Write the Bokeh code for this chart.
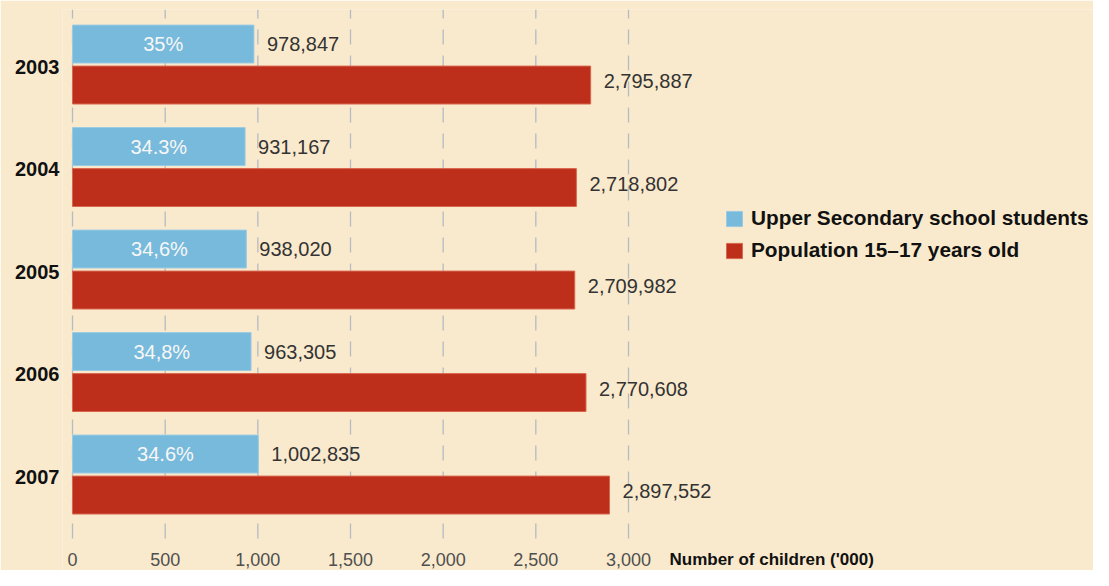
from bokeh.plotting import figure
from bokeh.models import (ColumnDataSource, Range1d, FixedTicker, CustomJSTickFormatter,
                          Legend, LegendItem)
from bokeh.core.properties import value
from bokeh.embed import file_html
from bokeh.resources import INLINE

# ---- data ----
years = ["2003", "2004", "2005", "2006", "2007"]
students = [978.847, 931.167, 938.020, 963.305, 1002.835]          # thousands
population = [2795.887, 2718.802, 2709.982, 2770.608, 2897.552]    # thousands
student_labels = ["978,847", "931,167", "938,020", "963,305", "1,002,835"]
population_labels = ["2,795,887", "2,718,802", "2,709,982", "2,770,608", "2,897,552"]
share_labels = ["35%", "34.3%", "34,6%", "34,8%", "34.6%"]
tick_values = [0, 500, 1000, 1500, 2000, 2500, 3000]
tick_labels = ["0", "500", "1,000", "1,500", "2,000", "2,500", "3,000"]
axis_title = "Number of children ('000)"
legend_labels = ["Upper Secondary school students", "Population 15\u201317 years old"]

# ---- styling ----
BG = "#FAEACD"
BLUE = "#78BADB"
RED = "#BE2F1B"
FONT = "Liberation Sans"
GRID_TOP = -0.537      # frame top (row units)
GRID_BOTTOM = 4.624    # where the dashed grid lines stop
TICK_Y = 4.829         # row-unit position of the tick-label line

idx = list(range(len(years)))
src = ColumnDataSource(dict(
    students=students,
    population=population,
    mid=[v / 2 for v in students],
    blue_y=[i - 0.2 for i in idx],
    red_y=[i + 0.2 for i in idx],
    student_labels=student_labels,
    population_labels=population_labels,
    share_labels=share_labels,
))
tick_src = ColumnDataSource(dict(
    x=tick_values,
    label=tick_labels,
    y0=[GRID_BOTTOM] * len(tick_values),
    y1=[GRID_TOP] * len(tick_values),
    ty=[TICK_Y] * len(tick_values),
))
title_src = ColumnDataSource(dict(x=[tick_values[-1]], y=[TICK_Y], text=[axis_title]))

p = figure(width=1093, height=570, output_backend="svg", toolbar_location=None,
           x_range=Range1d(-54, 5509), y_range=Range1d(4.936, GRID_TOP),
           min_border_left=62, min_border_right=0, min_border_top=9, min_border_bottom=0)
p.background_fill_color = BG
p.border_fill_color = BG
p.outline_line_color = None
p.xaxis.visible = False
p.xgrid.visible = False
p.ygrid.visible = False

# dashed vertical grid lines at the tick values
p.segment(x0="x", x1="x", y0="y0", y1="y1", source=tick_src,
          line_color="#B5BAC3", line_width=1.3, line_dash="15 11")

blue_r = p.hbar(y="blue_y", left=0, right="students", height=0.37, source=src,
                fill_color=BLUE, line_color="#9ACBE3", line_width=1)
red_r = p.hbar(y="red_y", left=0, right="population", height=0.37, source=src,
               fill_color=RED, line_color="#D8674F", line_width=1)

p.text(x="students", y="blue_y", text="student_labels", source=src, x_offset=13,
       text_baseline="middle", text_align="left", text_font=value(FONT),
       text_font_size="20px", text_color="#333333")
p.text(x="population", y="red_y", text="population_labels", source=src, x_offset=13,
       y_offset=-4, text_baseline="middle", text_align="left", text_font=value(FONT),
       text_font_size="20px", text_color="#333333")
p.text(x="mid", y="blue_y", text="share_labels", source=src,
       text_baseline="middle", text_align="center", text_font=value(FONT),
       text_font_size="20px", text_color="#F7F7F7")

# x tick labels and axis title
p.text(x="x", y="ty", text="label", source=tick_src, text_align="center",
       text_baseline="middle", text_font=value(FONT), text_font_size="18px",
       text_color="#4F4F4F")
p.text(x="x", y="y", text="text", source=title_src, x_offset=41, text_align="left",
       text_baseline="middle", text_font=value(FONT), text_font_style="bold",
       text_font_size="17px", text_color="#111111")

# y axis (years)
p.yaxis.ticker = FixedTicker(ticks=[i + 0.02 for i in idx])
p.yaxis.formatter = CustomJSTickFormatter(args=dict(labels=years),
                                          code="return labels[Math.round(tick)];")
p.yaxis.axis_line_color = None
p.yaxis.major_tick_line_color = None
p.yaxis.minor_tick_line_color = None
p.yaxis.major_label_standoff = -3
p.yaxis.major_label_text_font = FONT
p.yaxis.major_label_text_font_style = "bold"
p.yaxis.major_label_text_font_size = "20px"
p.yaxis.major_label_text_color = "#111111"

legend = Legend(items=[LegendItem(label=legend_labels[0], renderers=[blue_r]),
                       LegendItem(label=legend_labels[1], renderers=[red_r])],
                location=(662, 308), glyph_width=20, glyph_height=19, label_height=19,
                label_standoff=7, spacing=8, padding=0, margin=0,
                border_line_color=None, background_fill_alpha=0,
                label_text_font=FONT, label_text_font_style="bold",
                label_text_font_size="20.8px", label_text_color="#111111")
p.add_layout(legend)

open("out.html", "w").write(file_html(p, INLINE))
